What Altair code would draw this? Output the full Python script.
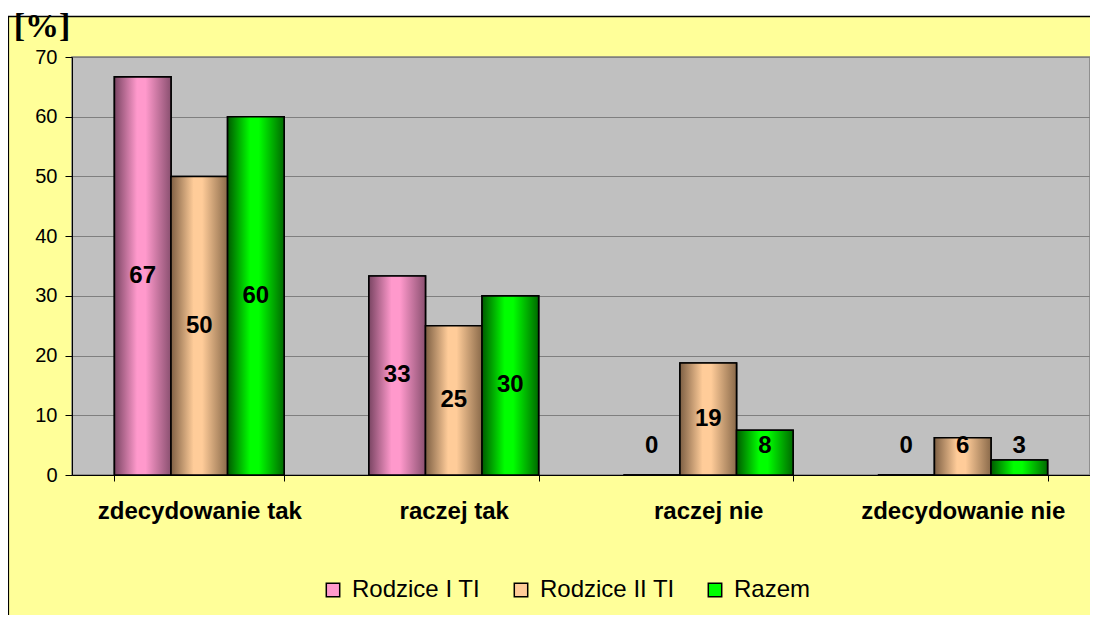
import altair as alt
import pandas as pd

categories = ["zdecydowanie tak", "raczej tak", "raczej nie", "zdecydowanie nie"]
series = ["Rodzice I TI", "Rodzice II TI", "Razem"]
rodzice_1 = [66.67, 33.33, 0, 0]
rodzice_2 = [50, 25, 18.75, 6.25]
razem = [60, 30, 7.5, 2.5]
y_ticks = [0, 10, 20, 30, 40, 50, 60, 70]

colors = ["#FF99CC", "#FFCC99", "#00FF00"]
edges = [("#7A4563", "#8A5070"), ("#7E6044", "#8A6A4A"), ("#005A00", "#006A00")]

rows = []
for s, vals in zip(series, [rodzice_1, rodzice_2, razem]):
    for c, v in zip(categories, vals):
        rows.append({"cat": c, "series": s, "v": v})
df = pd.DataFrame(rows)

W, H = 1018, 418
FONT = "Liberation Sans"

x_enc = alt.X("cat:N", sort=categories, title=None,
              scale=alt.Scale(paddingInner=0.333, paddingOuter=0.1667),
              axis=alt.Axis(tickBand="extent", labelFont=FONT, labelFontSize=24,
                            labelFontWeight="bold", labelColor="black", labelPadding=18,
                            domainColor="black", tickColor="black", tickSize=6,
                            labelAngle=0, grid=False, labelLimit=400))
xoff = alt.XOffset("series:N", sort=series, scale=alt.Scale(domain=series, paddingInner=0, paddingOuter=0))
y_enc = alt.Y("v:Q", title=None,
              scale=alt.Scale(domain=[0, 70], nice=False),
              axis=alt.Axis(values=y_ticks, labelFont=FONT, labelFontSize=20, labelColor="black",
                            domainColor="black", tickColor="black", tickSize=7, labelPadding=8,
                            grid=True, gridColor="#7F7F7F", gridWidth=1))

base = alt.Chart(df)

flat = base.mark_bar(stroke="black", strokeWidth=1.6).encode(
    x=x_enc, xOffset=xoff, y=y_enc,
    color=alt.Color("series:N", sort=series,
                    scale=alt.Scale(domain=series, range=colors),
                    legend=alt.Legend(title=None, orient="none", direction="horizontal",
                                      legendX=249, legendY=521, symbolType="square",
                                      symbolSize=180, symbolStrokeColor="black",
                                      symbolStrokeWidth=1.5, symbolOpacity=1,
                                      labelFont=FONT, labelFontSize=24, labelColor="black",
                                      labelOffset=7, columnPadding=28, labelLimit=400)),
)

grad_layers = []
for s, c, (e1, e2) in zip(series, colors, edges):
    g = alt.Gradient(gradient="linear", x1=0, x2=1, y1=0, y2=0,
                     stops=[alt.GradientStop(offset=0, color=e1),
                            alt.GradientStop(offset=0.4, color=c),
                            alt.GradientStop(offset=0.55, color=c),
                            alt.GradientStop(offset=1, color=e2)])
    grad_layers.append(
        base.transform_filter(alt.datum.series == s).mark_bar(
            fill=g, stroke="black", strokeWidth=1.6
        ).encode(x=x_enc, xOffset=xoff, y=y_enc)
    )

labels = base.transform_calculate(
    ly="max(datum.v / 2, 4.8)", lab="format(round(datum.v), 'd')"
).mark_text(font=FONT, fontSize=24, fontWeight="bold", color="black", baseline="middle").encode(
    x=x_enc, xOffset=xoff, y=alt.Y("ly:Q", scale=alt.Scale(domain=[0, 70], nice=False)),
    text="lab:N",
)

one = pd.DataFrame({"a": [0]})
white_strip = alt.Chart(one).mark_rect(fill="white").encode(
    x=alt.value(-70), x2=alt.value(1030), y=alt.value(-55), y2=alt.value(-41))
top_border = alt.Chart(one).mark_rule(color="black", strokeWidth=1.5).encode(
    x=alt.value(-64), x2=alt.value(1030), y=alt.value(-40.5))
left_border = alt.Chart(one).mark_rule(color="black", strokeWidth=1.2).encode(
    x=alt.value(-63.5), y=alt.value(-41), y2=alt.value(570))
pct = alt.Chart(one).mark_text(font="Liberation Serif", fontSize=34, fontWeight="bold",
                               color="black", align="center", baseline="middle").encode(
    x=alt.value(-30), y=alt.value(-30), text=alt.value("[%]"))

chart = alt.layer(
    white_strip, top_border, left_border, flat, *grad_layers, labels, pct
).properties(
    width=W, height=H,
    autosize=alt.AutoSizeParams(type="none"),
    padding={"left": 64, "top": 49, "right": 0, "bottom": 140},
    background="#FFFF99",
).configure_view(
    fill="#C0C0C0", stroke="#7F7F7F", strokeWidth=1.5
)

chart.save("out.html", embed_options={"renderer": "svg", "actions": False})
